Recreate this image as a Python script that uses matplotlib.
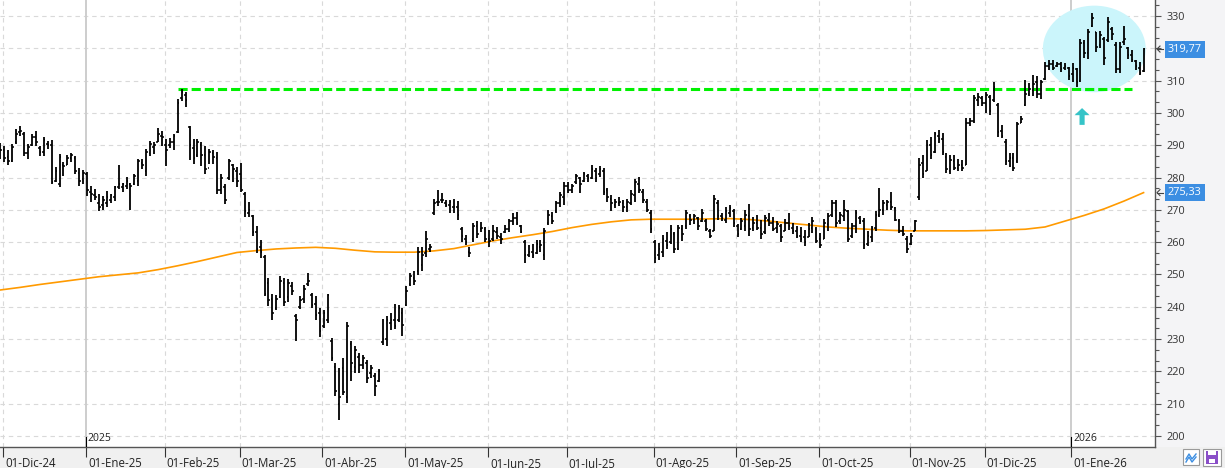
import numpy as np
import pandas as pd
import matplotlib
matplotlib.use("Agg")
import matplotlib.pyplot as plt
from matplotlib.patches import Ellipse, FancyArrow, Rectangle
from matplotlib.transforms import ScaledTranslation, blended_transform_factory

plt.rcParams['font.family'] = ['Open Sans', 'DejaVu Sans']

# ---------------- data (daily OHLC) ----------------
highs = [290.7, 289.9, 288.4, 290.4, 295.0, 296.1, 294.0, 290.4, 293.5, 294.5,
         289.9, 292.5, 291.4, 291.6, 283.2, 287.3, 284.7, 287.0, 287.6, 286.6,
         282.9, 282.2, 281.6, 277.5, 276.5, 275.0, 274.4, 275.7, 275.0, 277.3,
         283.9, 278.4, 280.1, 278.4, 281.1, 285.8, 285.8, 288.9, 291.4, 290.9,
         295.3, 294.3, 291.8, 292.2, 293.5, 304.3, 307.4, 306.4, 296.1, 292.0,
         292.0, 290.9, 289.9, 288.9, 288.4, 287.8, 281.1, 278.0, 285.8, 284.2,
         283.2, 284.5, 275.6, 272.5, 268.4, 265.0, 260.7, 256.0, 248.8, 244.0,
         243.7, 249.4, 248.8, 248.5, 247.8, 237.8, 243.4, 246.8, 250.4, 244.2,
         243.2, 239.6, 238.9, 244.0, 230.3, 222.6, 221.1, 224.2, 235.2, 229.3,
         228.0, 225.7, 225.2, 223.6, 222.1, 219.5, 220.8, 236.3, 237.0, 238.0,
         240.9, 240.6, 239.6, 246.3, 250.6, 251.0, 258.4, 258.6, 263.3, 259.4,
         273.5, 276.1, 275.3, 273.2, 273.0, 273.5, 272.8, 264.7, 262.2, 258.6,
         266.0, 266.6, 266.3, 264.7, 263.7, 265.3, 264.7, 262.7, 265.3, 267.3,
         268.9, 269.4, 265.3, 260.6, 259.1, 259.4, 260.6, 260.8, 264.5, 269.9,
         269.4, 272.8, 275.6, 278.7, 278.7, 278.1, 281.2, 280.2, 281.8, 281.2,
         283.8, 282.8, 283.5, 282.8, 276.9, 274.5, 273.5, 274.0, 273.2, 273.5,
         276.1, 279.4, 280.2, 276.6, 273.5, 269.9, 260.8, 259.6, 262.2, 263.2,
         265.3, 263.2, 265.3, 265.3, 270.1, 268.7, 268.8, 267.9, 270.2, 267.1,
         264.0, 274.6, 273.1, 269.0, 270.8, 271.5, 270.2, 265.7, 267.4, 270.0,
         271.9, 267.7, 268.5, 266.9, 268.5, 269.0, 267.7, 266.4, 265.7, 267.1,
         269.0, 265.9, 265.1, 264.8, 263.8, 265.9, 267.7, 264.6, 262.8, 267.1,
         269.0, 273.1, 273.1, 269.2, 272.9, 270.0, 265.9, 270.0, 268.1, 267.4,
         263.3, 265.1, 269.5, 276.7, 273.1, 273.1, 275.4, 270.8, 267.1, 265.1,
         261.8, 262.8, 266.9, 286.0, 287.0, 291.6, 292.7, 294.2, 294.7, 293.7,
         287.5, 287.0, 287.0, 285.7, 285.5, 298.4, 298.4, 305.6, 306.1, 305.3,
         306.6, 305.6, 309.7, 303.0, 296.3, 291.9, 287.5, 287.5, 297.3, 298.9,
         310.2, 309.2, 311.8, 311.4, 310.2, 315.9, 316.4, 316.4, 315.9, 315.9,
         315.4, 314.3, 315.4, 313.8, 322.8, 322.6, 325.9, 331.0, 325.2, 325.5,
         323.6, 329.6, 326.7, 321.8, 321.8, 326.9, 320.5, 319.5, 316.4, 315.9,
         320.0]
lows = [285.8, 284.7, 283.9, 284.7, 290.4, 292.8, 286.6, 285.8, 289.9, 289.9,
        286.6, 286.8, 288.9, 278.0, 278.6, 277.0, 280.6, 283.9, 284.7, 281.1,
        277.5, 278.0, 274.4, 272.4, 272.9, 269.6, 270.0, 270.8, 272.2, 272.6,
        276.5, 275.5, 276.5, 269.8, 277.7, 277.5, 282.7, 280.6, 286.6, 287.3,
        290.9, 289.9, 283.5, 289.1, 288.4, 293.8, 303.8, 301.8, 285.3, 284.2,
        286.3, 283.5, 281.1, 284.2, 284.2, 274.9, 274.9, 271.9, 279.1, 278.6,
        277.0, 275.4, 267.9, 267.7, 261.9, 256.6, 255.0, 243.4, 240.1, 236.0,
        239.1, 242.7, 240.1, 241.6, 243.7, 229.3, 239.3, 241.1, 246.3, 239.6,
        236.0, 230.8, 233.4, 235.0, 223.1, 212.3, 205.1, 212.8, 210.3, 217.0,
        219.5, 219.5, 220.6, 216.4, 218.0, 212.3, 216.6, 228.3, 227.8, 232.9,
        233.1, 235.2, 231.0, 240.1, 246.3, 246.6, 249.9, 251.2, 255.5, 257.1,
        268.4, 271.2, 272.2, 271.0, 269.1, 269.1, 266.9, 260.1, 259.1, 255.3,
        260.1, 261.4, 263.2, 260.1, 258.6, 260.4, 261.1, 259.4, 262.7, 263.2,
        265.3, 265.3, 262.7, 253.4, 255.3, 255.0, 256.3, 257.0, 254.4, 265.3,
        265.6, 269.1, 270.9, 271.4, 275.3, 275.3, 278.1, 275.1, 278.7, 278.7,
        279.7, 278.7, 280.2, 274.5, 272.5, 269.7, 270.7, 271.1, 269.4, 269.4,
        271.4, 272.5, 275.1, 272.2, 269.4, 262.9, 253.6, 254.6, 255.3, 258.0,
        259.4, 256.7, 257.7, 260.4, 264.2, 265.4, 265.7, 263.8, 266.1, 263.3,
        261.2, 263.3, 266.9, 266.4, 265.9, 267.9, 264.8, 261.5, 263.8, 263.3,
        261.8, 263.6, 263.8, 260.9, 262.6, 265.1, 263.6, 262.8, 260.2, 263.3,
        263.8, 262.6, 261.2, 259.9, 258.7, 261.5, 262.8, 259.7, 258.1, 260.9,
        263.3, 267.7, 264.8, 265.7, 266.4, 259.9, 261.2, 262.8, 265.7, 257.8,
        258.7, 260.2, 263.3, 267.9, 268.5, 270.0, 270.0, 266.4, 262.8, 261.8,
        256.6, 259.2, 263.3, 273.0, 279.8, 281.9, 285.7, 287.5, 290.6, 287.0,
        281.3, 281.1, 282.4, 281.9, 281.9, 283.9, 295.8, 296.8, 302.2, 302.0,
        299.9, 299.4, 303.5, 292.7, 292.2, 283.9, 283.4, 281.9, 284.4, 296.8,
        302.0, 305.1, 305.1, 304.5, 304.2, 310.2, 313.3, 313.3, 314.3, 312.8,
        313.3, 310.2, 309.7, 308.1, 309.7, 316.9, 316.6, 326.7, 319.0, 320.0,
        314.8, 322.1, 322.6, 312.5, 312.5, 321.0, 316.6, 315.9, 313.3, 311.8,
        312.8]
opens = [290.0, 288.5, 286.5, 285.0, 291.0, 294.0, 293.5, 287.5, 290.0, 292.5,
         289.0, 288.0, 290.5, 290.0, 279.0, 278.0, 284.0, 284.0, 286.0, 286.0,
         281.5, 279.5, 281.0, 275.5, 274.5, 272.0, 271.5, 272.0, 273.0, 274.0,
         277.0, 277.0, 277.5, 278.0, 278.0, 279.0, 284.5, 282.0, 287.5, 289.5,
         291.0, 293.0, 290.0, 290.0, 291.0, 294.0, 304.5, 305.5, 295.5, 289.0,
         287.0, 290.0, 287.0, 283.0, 287.5, 286.0, 276.0, 277.0, 280.0, 284.0,
         282.0, 281.0, 275.0, 269.0, 268.0, 263.0, 258.5, 255.5, 247.5, 242.5,
         239.5, 243.0, 247.5, 243.0, 246.5, 237.0, 240.0, 242.5, 247.0, 243.5,
         241.0, 238.0, 234.0, 236.0, 229.5, 221.5, 210.0, 221.0, 212.0, 228.5,
         221.5, 224.5, 222.0, 222.5, 219.5, 218.5, 217.0, 229.0, 230.0, 235.0,
         236.0, 236.0, 238.0, 240.5, 247.0, 249.0, 251.0, 253.0, 256.5, 258.0,
         269.0, 272.5, 273.0, 272.0, 271.5, 271.0, 271.0, 264.0, 261.0, 257.0,
         261.0, 265.0, 264.0, 264.0, 261.0, 261.0, 263.0, 261.5, 263.0, 264.0,
         266.5, 267.5, 265.0, 260.0, 256.0, 257.0, 256.5, 258.5, 256.0, 266.0,
         268.0, 269.5, 272.0, 274.0, 277.5, 276.0, 278.5, 280.0, 279.0, 280.5,
         280.0, 282.0, 281.0, 282.0, 276.0, 273.5, 271.5, 272.0, 272.0, 271.0,
         272.0, 274.5, 278.0, 275.5, 272.5, 269.0, 260.0, 256.0, 257.0, 260.5,
         260.0, 262.5, 258.0, 264.0, 265.0, 268.0, 267.0, 267.5, 266.5, 266.5,
         263.5, 263.5, 272.0, 268.0, 267.0, 269.0, 269.5, 265.0, 264.0, 265.0,
         268.0, 264.5, 266.0, 264.5, 263.0, 267.0, 266.0, 264.5, 265.0, 263.5,
         266.0, 264.5, 263.5, 262.0, 261.5, 261.5, 264.5, 264.0, 261.0, 261.0,
         265.5, 268.5, 272.0, 266.5, 268.0, 269.5, 262.0, 265.0, 267.5, 266.5,
         259.5, 261.5, 264.5, 268.5, 270.0, 271.5, 272.5, 270.5, 266.5, 263.5,
         261.0, 259.5, 263.5, 274.0, 284.5, 282.0, 290.0, 288.0, 293.0, 292.0,
         286.5, 282.0, 285.0, 283.0, 284.0, 284.0, 297.0, 297.5, 304.0, 304.5,
         303.0, 305.0, 304.0, 302.5, 294.5, 291.0, 285.0, 286.0, 285.0, 297.0,
         302.5, 306.0, 307.0, 309.5, 306.0, 310.5, 314.5, 315.0, 314.5, 315.0,
         314.0, 314.0, 312.0, 313.5, 310.0, 321.5, 318.5, 327.0, 325.0, 321.0,
         323.0, 322.5, 326.0, 321.0, 313.5, 322.0, 320.0, 318.0, 316.0, 314.0,
         313.0]
closes = [288.5, 286.0, 285.0, 289.5, 293.5, 294.5, 287.5, 289.5, 292.5, 291.0,
          288.0, 291.5, 290.0, 278.5, 282.0, 286.5, 283.5, 286.0, 287.0, 282.0,
          279.0, 281.5, 276.0, 275.0, 274.0, 271.0, 273.0, 274.0, 274.5, 277.0,
          278.0, 278.0, 279.0, 277.5, 280.5, 285.0, 284.0, 288.0, 290.5, 290.0,
          293.5, 292.5, 288.5, 291.0, 293.0, 303.0, 306.5, 304.0, 290.0, 286.0,
          291.0, 287.0, 282.5, 288.0, 286.5, 276.0, 280.0, 273.0, 285.0, 282.5,
          279.0, 276.0, 269.5, 270.0, 263.0, 258.0, 257.0, 244.0, 242.0, 238.0,
          242.5, 248.0, 241.5, 247.5, 245.0, 236.0, 242.0, 245.5, 248.0, 240.5,
          237.5, 232.5, 238.0, 243.5, 224.0, 214.0, 212.0, 213.5, 234.0, 222.5,
          226.5, 222.0, 224.0, 218.0, 221.0, 215.5, 220.0, 230.0, 236.0, 236.0,
          234.0, 239.5, 234.5, 245.0, 249.5, 248.0, 257.0, 256.0, 261.0, 258.5,
          272.0, 272.5, 273.0, 271.5, 272.5, 271.0, 268.5, 262.0, 260.0, 256.5,
          265.0, 262.5, 264.5, 261.0, 260.5, 263.5, 262.0, 261.0, 264.0, 266.5,
          267.5, 266.0, 263.0, 256.0, 257.0, 256.0, 259.5, 259.0, 263.5, 268.5,
          266.5, 272.0, 274.5, 277.5, 276.0, 277.5, 280.5, 278.0, 281.0, 280.0,
          282.5, 280.0, 282.5, 275.5, 274.0, 272.0, 272.5, 272.5, 271.0, 272.5,
          275.0, 278.5, 276.0, 273.0, 270.0, 264.0, 255.0, 258.0, 261.0, 259.0,
          264.0, 258.0, 264.5, 262.5, 269.0, 267.0, 268.0, 265.0, 269.0, 264.0,
          262.0, 273.5, 268.0, 267.5, 269.5, 270.5, 266.0, 262.5, 266.5, 268.5,
          264.0, 266.0, 264.5, 262.5, 267.5, 266.0, 264.0, 265.5, 261.5, 266.0,
          265.0, 263.5, 262.0, 261.0, 260.0, 264.0, 266.5, 260.5, 259.0, 266.0,
          268.0, 272.0, 266.0, 268.5, 270.0, 261.0, 265.0, 269.0, 266.5, 259.0,
          262.0, 264.5, 268.5, 270.0, 272.0, 272.5, 271.0, 267.0, 263.5, 262.5,
          258.0, 262.0, 266.5, 284.0, 281.0, 290.0, 287.0, 293.5, 292.0, 288.0,
          282.5, 285.5, 283.0, 284.0, 283.0, 297.0, 297.5, 304.5, 305.0, 303.0,
          305.5, 300.5, 308.0, 294.0, 293.0, 285.0, 286.0, 283.0, 296.5, 298.0,
          306.0, 307.5, 309.0, 306.0, 309.5, 314.5, 315.0, 314.0, 315.0, 313.5,
          314.5, 311.5, 314.0, 309.5, 321.5, 318.5, 325.0, 329.5, 320.5, 324.0,
          317.0, 328.0, 324.5, 313.5, 320.5, 323.0, 318.0, 316.5, 314.5, 312.5,
          319.77]
# moving average, sampled every 5th session
ma_values = [245.2, 246.0, 246.9, 247.7, 248.5, 249.3, 249.9, 250.5, 251.5, 252.7,
             254.0, 255.4, 256.8, 257.4, 257.9, 258.2, 258.4, 258.1, 257.5, 257.0,
             256.9, 256.9, 257.3, 258.0, 259.2, 260.4, 261.4, 262.3, 263.3, 264.5,
             265.5, 266.3, 266.9, 267.1, 267.1, 267.1, 267.2, 267.3, 267.0, 266.5,
             265.9, 265.3, 264.7, 264.3, 264.0, 263.7, 263.5, 263.5, 263.5, 263.5,
             263.6, 263.8, 264.0, 264.7, 266.5, 268.3, 270.3, 272.7, 275.33]
ma_step = 5
support_level = 307.4
last_price = 319.77
ma_last = 275.33
y_tick_values = list(range(200, 331, 10))
hidden_y_labels = [320]          # covered by the last-price box in the original
month_names = ['Ene', 'Feb', 'Mar', 'Abr', 'May', 'Jun', 'Jul', 'Ago', 'Sep', 'Oct', 'Nov', 'Dic']
holidays = ['2024-12-25', '2025-01-01', '2025-01-09', '2025-01-20', '2025-02-17',
            '2025-04-18', '2025-05-26', '2025-06-19', '2025-07-04', '2025-09-01',
            '2025-11-27', '2025-12-25', '2026-01-01', '2026-01-19']

dates = pd.bdate_range('2024-11-29', '2026-01-29', freq='C', holidays=holidays)
n = len(dates)
k = np.arange(n)

# ---------------- figure ----------------
W, H = 1225, 468
fig = plt.figure(figsize=(W / 100, H / 100), dpi=100)
fig.patch.set_facecolor('white')
fig.patches.append(Rectangle((0, 0), 1, 21 / H, transform=fig.transFigure,
                             fc='#f0f0f0', ec='none', zorder=-2))
fig.patches.append(Rectangle((1155 / W, 21 / H), 70 / W, 447 / H, transform=fig.transFigure,
                             fc='#f4f4f6', ec='none', zorder=-2))

ax = fig.add_axes([0, 21 / H, 1155 / W, 447 / H])
ax.set_facecolor('white')
ax.set_xlim(-0.1, 292.9)
ax.set_ylim(196.6, 334.95)

# grid
grid_c = '#d9d9d9'
for lv in y_tick_values:
    ax.axhline(lv, color=grid_c, lw=0.8, ls=(0, (4, 3.5)), zorder=0.5)

month_k, month_lbl, year_k, year_lbl = [], [], [], []
for i in range(1, n):
    if dates[i].month != dates[i - 1].month:
        month_k.append(i)
        month_lbl.append('01-%s-%s' % (month_names[dates[i].month - 1], dates[i].strftime('%y')))
        if dates[i].month == 1:
            year_k.append(i)
            year_lbl.append(str(dates[i].year))

for mk in month_k:
    if mk in year_k:
        ax.axvline(mk - 0.3, color='#cdcdcd', lw=1.4, zorder=0.5)
    else:
        ax.axvline(mk - 0.3, color=grid_c, lw=0.8, ls=(0, (4, 3.5)), zorder=0.5)

# highlight ellipse
ax.add_patch(Ellipse((277.5, 319.8), 26.1, 26.8, fc='#cbf5fb', ec='none', zorder=1))

# moving average
ma_k = np.arange(0, n, ma_step)
ax.plot(ma_k, ma_values, color='#ff9a00', lw=1.2, zorder=2)

# support line
ax.hlines(support_level, 45.0, 287.1, color='#00f000', lw=2.2,
          linestyles=[(0, (3.0, 1.3))], zorder=2.5)

# OHLC bars
ax.vlines(k, lows, highs, color='black', lw=1.3, zorder=4)
ax.hlines(opens, k - 0.42, k, color='black', lw=1.1, zorder=4)
ax.hlines(closes, k, k + 0.42, color='black', lw=1.1, zorder=4)

# arrow
ax.add_patch(FancyArrow(274.4, 296.3, 0, 5.2, width=1.3, head_width=3.8, head_length=2.2,
                        length_includes_head=True, fc='#35c4c8', ec='none', zorder=5))

# spines
for s in ['top', 'left']:
    ax.spines[s].set_visible(False)
for s in ['right', 'bottom']:
    ax.spines[s].set_color('#555555')
    ax.spines[s].set_linewidth(1.0)

# y axis
ax.yaxis.tick_right()
ax.set_yticks(y_tick_values)
ax.set_yticklabels(['' if v in hidden_y_labels else str(v) for v in y_tick_values])
ax.set_yticks(np.arange(200, 335, 10 / 3), minor=True)
ax.tick_params(axis='y', which='major', length=4, width=0.8, colors='#555555',
               labelcolor='#333333', labelsize=7.8, pad=4)
ax.tick_params(axis='y', which='minor', length=3, width=0.8, colors='#555555')

# x axis
ax.set_xticks([m - 0.3 for m in month_k])
ax.set_xticklabels(month_lbl)
ax.tick_params(axis='x', which='major', length=7, width=0.8, colors='#333333',
               labelcolor='#222222', labelsize=8.3, pad=0)
for lab in ax.get_xticklabels():
    lab.set_horizontalalignment('left')
    lab.set_transform(lab.get_transform() + ScaledTranslation(2 / 100, 0, fig.dpi_scale_trans))

# year markers
bt = blended_transform_factory(ax.transData, ax.transAxes)
for yk, yl in zip(year_k, year_lbl):
    ax.plot([yk - 0.3, yk - 0.3], [0, 0.022], color='black', lw=0.8, transform=bt, zorder=6)
    ax.text(yk + 0.2, 0.006, yl, transform=bt, fontsize=7.5, color='#222222',
            ha='left', va='bottom', zorder=6)

# price boxes with small left-pointing markers
def price_box(val):
    ypx = 436 - (val - 200) * 3.2308
    yf = 1 - ypx / H
    fig.text(1168 / W, yf, ('%.2f' % val).replace('.', ','), color='white',
             fontsize=7.8, ha='left', va='center',
             bbox=dict(boxstyle='square,pad=0.28', fc='#3c8ee2', ec='none'))
    fig.lines.append(plt.Line2D([1157 / W, 1163 / W], [yf, yf], transform=fig.transFigure,
                                color='#444444', lw=0.8))
    fig.lines.append(plt.Line2D([1160 / W, 1157 / W, 1160 / W],
                                [yf + 3 / H, yf, yf - 3 / H], transform=fig.transFigure,
                                color='#444444', lw=0.8))

price_box(last_price)
price_box(ma_last)

# bottom-right icons
def fig_rect(x0, y0, w, h, **kw):
    fig.patches.append(Rectangle((x0 / W, 1 - (y0 + h) / H), w / W, h / H,
                                 transform=fig.transFigure, **kw))

fig_rect(1183, 449, 16, 16, fc='white', ec='#9a9a9a', lw=0.8, zorder=3)
fig.lines.append(plt.Line2D([1186 / W, 1189 / W, 1192 / W, 1196 / W],
                            [1 - 459 / H, 1 - 454 / H, 1 - 459 / H, 1 - 454 / H],
                            transform=fig.transFigure, color='#3c8ee2', lw=1.0, zorder=4))
fig.lines.append(plt.Line2D([1186 / W, 1189 / W, 1192 / W, 1196 / W],
                            [1 - 462 / H, 1 - 457 / H, 1 - 462 / H, 1 - 457 / H],
                            transform=fig.transFigure, color='#3c8ee2', lw=1.0, zorder=4))
fig_rect(1203, 449, 18, 17, fc='white', ec='#9a9a9a', lw=0.8, zorder=3)
fig_rect(1206, 451, 12, 13, fc='#8a4fc8', ec='none', zorder=4)
fig_rect(1208, 451, 8, 4, fc='white', ec='none', zorder=5)
fig_rect(1209, 459, 6, 4, fc='white', ec='none', zorder=5)

fig.savefig('out.png', dpi=100, facecolor=fig.get_facecolor())
